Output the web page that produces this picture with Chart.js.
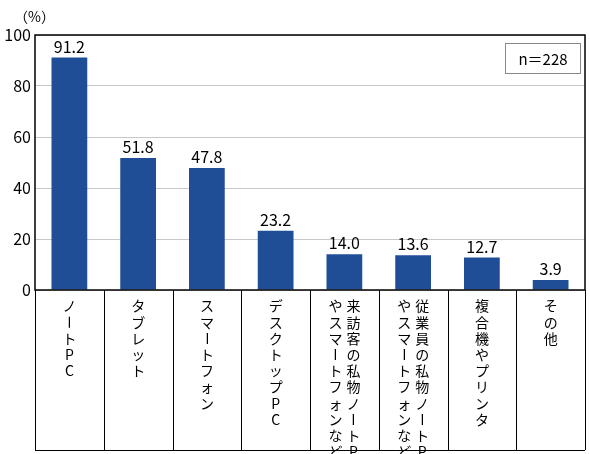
<!DOCTYPE html>
<html><head><meta charset="utf-8">
<script src="https://cdn.jsdelivr.net/npm/chart.js@4/dist/chart.umd.min.js"></script>
<style>html,body{margin:0;padding:0;background:#fff}#w{width:590px;height:454px}</style>
</head><body><div id="w"><canvas id="c" width="590" height="454"></canvas></div>
<script>
const categories = [["ノートPC"],["タブレット"],["スマートフォン"],["デスクトップPC"],["来訪客の私物ノートPC","やスマートフォンなど"],["従業員の私物ノートPC","やスマートフォンなど"],["複合機やプリンタ"],["その他"]];
const values = [91.2,51.8,47.8,23.2,14.0,13.6,12.7,3.9];
const yTicks = [0,20,40,60,80,100];
const FONT = '"Noto Sans CJK JP", "Noto Sans", sans-serif';

const deco = {
  id:'deco',
  afterDraw(ch){
    const c = ch.ctx, a = ch.chartArea, x = ch.scales.x, y = ch.scales.y;
    c.save();
    // frame
    c.strokeStyle='#000'; c.lineWidth=1.5;
    c.strokeRect(a.left, a.top, a.right-a.left, a.bottom-a.top);
    // category boxes
    const boxBottom = 450;
    const n = categories.length, w = (a.right-a.left)/n;
    c.strokeStyle='#000'; c.lineWidth=1;
    for(let i=0;i<=n;i++){
      const xx = Math.round(a.left+i*w)+0.5;
      c.beginPath(); c.moveTo(xx,a.bottom); c.lineTo(xx,boxBottom); c.stroke();
    }
    c.beginPath(); c.moveTo(a.left,boxBottom+0.5); c.lineTo(a.right,boxBottom+0.5); c.stroke();
    // vertical labels
    c.fillStyle='#000'; c.font='14px '+FONT; c.textAlign='center'; c.textBaseline='middle';
    categories.forEach((lines,i)=>{
      const cx = x.getPixelForValue(i);
      const colW = 18;
      lines.forEach((line,j)=>{
        const lx = cx + (lines.length-1)*colW/2 - j*colW;
        [...line].forEach((ch2,k)=>{
          const ly = a.bottom + 16 + k*16.2;
          if(ch2==='ー'){
            c.save(); c.translate(lx,ly); c.rotate(Math.PI/2); c.fillText(ch2,0,0); c.restore();
          } else c.fillText(ch2,lx,ly);
        });
      });
    });
    // value labels
    c.font='16px '+FONT; c.textBaseline='bottom';
    values.forEach((v,i)=>{
      c.fillText(v.toFixed(1), x.getPixelForValue(i), y.getPixelForValue(v)-3);
    });
    // unit
    c.font='14px '+FONT; c.textAlign='left'; c.textBaseline='middle';
    c.fillText('（%）', 14, 17);
    // n box
    c.strokeStyle='#888'; c.lineWidth=1;
    c.strokeRect(505.5,43.5,75,30);
    c.textAlign='center'; c.font='15px '+FONT; c.fillStyle='#000';
    c.fillText('n＝228', 543, 59);
    c.restore();
  }
};

new Chart(document.getElementById('c'),{
  type:'bar',
  data:{labels:categories.map(l=>l.join('')),datasets:[{data:values,backgroundColor:'#1f4e96',categoryPercentage:1,barPercentage:0.52}]},
  options:{
    responsive:false,animation:false,
    layout:{padding:{left:0,top:35,right:5,bottom:164}},
    plugins:{legend:{display:false},tooltip:{enabled:false}},
    scales:{
      x:{ticks:{display:false},grid:{display:false},border:{display:false},afterFit(s){s.height=0;}},
      y:{min:0,max:100,afterBuildTicks(s){s.ticks=yTicks.map(v=>({value:v}));},
         ticks:{color:'#000',font:{size:16,family:FONT},padding:4},
         grid:{color:'#c8c8c8',drawTicks:false},border:{display:false},
         afterFit(s){s.width=35;}}
    }
  },
  plugins:[deco]
});
</script></body></html>
